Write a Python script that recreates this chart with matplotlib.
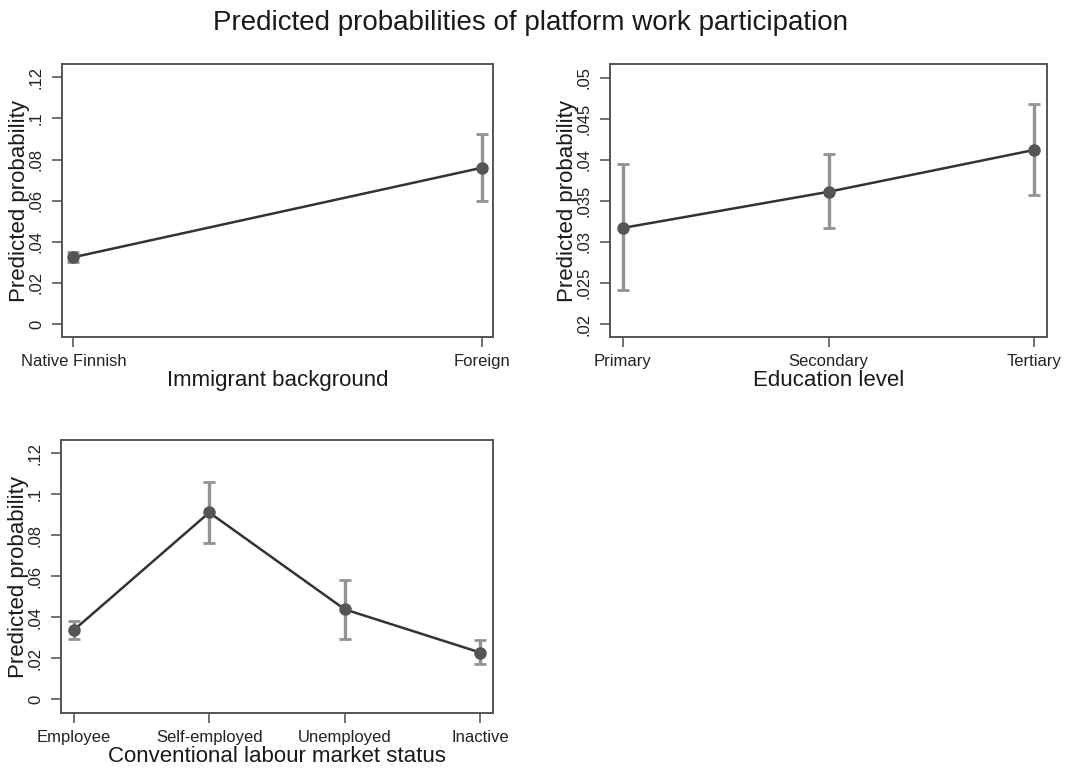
import numpy as np
import matplotlib
matplotlib.use("Agg")
import matplotlib.pyplot as plt

plt.rcParams['font.family'] = ['Liberation Sans', 'DejaVu Sans']

# margins: point estimates with 95% CI
imm_cats = ["Native Finnish", "Foreign"]
imm_p = [0.0325, 0.076]
imm_lo = [0.030, 0.060]
imm_hi = [0.035, 0.0925]

edu_cats = ["Primary", "Secondary", "Tertiary"]
edu_p = [0.0317, 0.0361, 0.0412]
edu_lo = [0.0241, 0.0317, 0.0357]
edu_hi = [0.0395, 0.0407, 0.0468]

lab_cats = ["Employee", "Self-employed", "Unemployed", "Inactive"]
lab_p = [0.0336, 0.0911, 0.0438, 0.0227]
lab_lo = [0.0295, 0.0762, 0.0295, 0.0169]
lab_hi = [0.0381, 0.106, 0.0579, 0.029]

imm_ticks = [0, 0.02, 0.04, 0.06, 0.08, 0.1, 0.12]
imm_ticklabels = ["0", ".02", ".04", ".06", ".08", ".1", ".12"]
edu_ticks = [0.02, 0.025, 0.03, 0.035, 0.04, 0.045, 0.05]
edu_ticklabels = [".02", ".025", ".03", ".035", ".04", ".045", ".05"]

W, H = 1074, 769
fig = plt.figure(figsize=(W / 100, H / 100), dpi=100)


def px_axes(x0, y0, x1, y1):
    return fig.add_axes([x0 / W, 1 - y1 / H, (x1 - x0) / W, (y1 - y0) / H])


def margins_plot(ax, cats, p, lo, hi, yticks, ylabels, xlabel, ylim, pad):
    x = np.arange(len(cats))
    p = np.array(p)
    err = [p - np.array(lo), np.array(hi) - p]
    ax.errorbar(x, p, yerr=err, fmt='none', ecolor='#939393', elinewidth=2.4,
                capsize=4.5, capthick=2.0, zorder=2)
    ax.plot(x, p, color='#333333', lw=1.8, zorder=3)
    ax.plot(x, p, 'o', color='#555555', ms=8, zorder=4)
    ax.set_xlim(-pad, len(cats) - 1 + pad)
    ax.set_ylim(*ylim)
    ax.set_xticks(x)
    ax.set_xticklabels(cats, fontsize=12)
    ax.set_yticks(yticks)
    ax.set_yticklabels(ylabels, fontsize=12, rotation=90, va='center')
    ax.tick_params(length=7, width=1.3, color='#666666', pad=5, labelcolor='#222222')
    ax.tick_params(axis='y', pad=6)
    for s in ax.spines.values():
        s.set_color('#555555')
        s.set_linewidth(1.4)
    ax.set_xlabel(xlabel, fontsize=16, labelpad=1, color='#1a1a1a')
    ax.set_ylabel("Predicted probability", fontsize=16, labelpad=-1, color='#1a1a1a')


ax1 = px_axes(62, 64, 493, 337)
margins_plot(ax1, imm_cats, imm_p, imm_lo, imm_hi, imm_ticks, imm_ticklabels,
             "Immigrant background", (-0.0063, 0.1265), 0.028)

ax2 = px_axes(610, 64, 1047, 337)
margins_plot(ax2, edu_cats, edu_p, edu_lo, edu_hi, edu_ticks, edu_ticklabels,
             "Education level", (0.01842, 0.05166), 0.062)

ax3 = px_axes(61, 440, 493, 713)
margins_plot(ax3, lab_cats, lab_p, lab_lo, lab_hi, imm_ticks, imm_ticklabels,
             "Conventional labour market status", (-0.0068, 0.1265), 0.093)

fig.text(0.494, 0.970, "Predicted probabilities of platform work participation",
         ha='center', va='center', fontsize=20, color='#1a1a1a')

fig.savefig("out.png", dpi=100)
